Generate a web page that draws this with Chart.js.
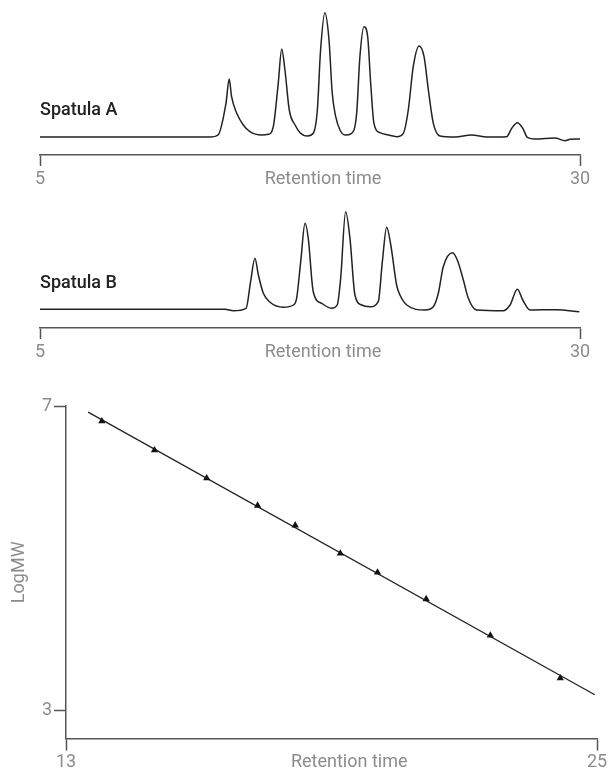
<!DOCTYPE html>
<html>
<head>
<meta charset="utf-8">
<script src="https://cdn.jsdelivr.net/npm/chart.js@4.4.1/dist/chart.umd.min.js"></script>
<style>
  html, body { margin: 0; padding: 0; background: #fff; }
  body { width: 610px; height: 771px; position: relative; overflow: hidden; font-family: Roboto, sans-serif; }
  .panel { position: absolute; left: 0; width: 610px; }
  .label { position: absolute; left: 40px; font-size: 18px; font-weight: 500; line-height: 18px; color: #222; }
</style>
</head>
<body>
<div class="panel" style="top:0;height:190px"><canvas id="chartA"></canvas></div>
<div class="panel" style="top:173px;height:190px"><canvas id="chartB"></canvas></div>
<div class="panel" style="top:380px;height:391px"><canvas id="chartC"></canvas></div>
<div class="label" style="top:100px">Spatula A</div>
<div class="label" style="top:273px">Spatula B</div>
<script>
// chromatogram traces (retention time, detector signal above baseline)
const timeA = [5, 12.87, 13.24, 13.61, 13.76, 13.87, 14.11, 14.41, 14.72, 15.26, 15.57, 15.80, 16.03, 16.19, 16.34, 16.54, 16.81, 17.04, 17.38, 17.65, 17.84, 17.99, 18.19, 18.38, 18.53, 18.69, 18.89, 19.12, 19.43, 19.66, 19.81, 20.0, 20.17, 20.31, 20.46, 20.74, 21.13, 21.51, 21.82, 22.05, 22.28, 22.55, 22.78, 22.98, 23.21, 23.52, 24.21, 24.98, 25.7, 26.6, 26.84, 27.1, 27.35, 27.56, 27.92, 28.84, 29.31, 29.54, 30];
const signalA = [0, 0, 2, 33.7, 58, 40.3, 23.7, 12, 5.3, 2, 2.7, 10.3, 53.7, 88, 67, 27, 12, 4.3, 1, 3.7, 27, 87, 124.3, 97, 43.7, 20.3, 7, 2, 3.7, 23.7, 80.3, 110.3, 100.3, 53.7, 13.7, 4.3, 2, 0.3, 3.7, 27, 70.3, 91, 80.3, 47, 13.7, 1, 0, 2, 0, 0.3, 8.7, 14.3, 8.7, -0.3, -2, -1, -3.7, -2.3, -2];

const timeB = [5, 13.56, 13.95, 14.54, 14.75, 14.95, 15.11, 15.34, 15.65, 16.27, 16.73, 16.88, 17.07, 17.27, 17.42, 17.65, 18.04, 18.50, 18.76, 18.92, 19.15, 19.35, 19.58, 19.89, 20.28, 20.66, 20.85, 21.05, 21.24, 21.51, 21.67, 21.98, 22.82, 23.21, 23.44, 23.67, 24.1, 24.32, 24.60, 24.83, 25.21, 26.45, 26.76, 27.1, 27.35, 27.69, 28.92, 29.97];
const signalB = [0, 0, -1.4, 1, 27.6, 51, 34.3, 16, 7, 2, 4.3, 11, 47.6, 86, 71, 17.6, 6, 1, 4.3, 31, 97.6, 71, 14.3, 4.3, 2.6, 7.6, 47.6, 82, 64.3, 24.3, 14, 4.3, -0.7, 2.6, 16, 42.6, 56.6, 49.3, 29.3, 11, -0.7, -1.4, 4.3, 20, 9.3, -0.7, -0.4, -2.4];

const chromTicks = [5, 18.1, 30];
const chromTickLabels = ['5', 'Retention time', '30'];

// calibration curve
const calTime = [13.81, 15.0, 16.18, 17.33, 18.18, 19.20, 20.04, 21.14, 22.59, 24.17];
const calLogMW = [6.80, 6.42, 6.05, 5.69, 5.43, 5.06, 4.81, 4.46, 3.98, 3.42];
const fitTime = [13.5, 24.95];
const fitLogMW = [6.92, 3.20];
const calTicksX = [13, 19.4, 25];
const calTickLabelsX = ['13', 'Retention time', '25'];
const calTicksY = [3, 7];

const axisColor = '#555';
const labelColor = '#8c8c8c';
const font = { family: 'Roboto', size: 18 };

function bottomAxis(min, max, ticks, labels, height, tickLen, pad) {
    return {
        type: 'linear', min: min, max: max,
        afterBuildTicks: s => { s.ticks = ticks.map(v => ({ value: v })); },
        afterFit: s => { s.height = height; },
        ticks: { autoSkip: false, maxRotation: 0, color: labelColor, font: font, padding: pad,
                 callback: (v, i) => labels[i] },
        grid: { drawOnChartArea: false, tickLength: tickLen, tickWidth: 1.5,
                tickColor: c => c.index === 1 ? 'rgba(0,0,0,0)' : axisColor },
        border: { color: axisColor, width: 1.5 }
    };
}

function chromChart(id, times, signal, yMin, yMax) {
    new Chart(document.getElementById(id), {
        type: 'line',
        data: {
            datasets: [{
                data: times.map((t, i) => ({ x: t, y: signal[i] })),
                borderColor: '#222',
                borderWidth: 1.5,
                pointRadius: 0,
                cubicInterpolationMode: 'monotone',
                fill: false
            }]
        },
        options: {
            responsive: true,
            maintainAspectRatio: false,
            animation: false,
            layout: { padding: { left: 40, right: 30, top: 0, bottom: 0 } },
            plugins: { legend: { display: false }, tooltip: { enabled: false } },
            scales: {
                x: bottomAxis(5, 30, chromTicks, chromTickLabels, 35, 11, 3),
                y: { display: false, min: yMin, max: yMax }
            }
        }
    });
}

chromChart('chartA', timeA, signalA, -18, 137);
chromChart('chartB', timeB, signalB, -18.7, 136.3);

new Chart(document.getElementById('chartC'), {
    type: 'scatter',
    data: {
        datasets: [{
            data: calTime.map((t, i) => ({ x: t, y: calLogMW[i] })),
            pointStyle: 'triangle',
            pointRadius: 4.2,
            backgroundColor: '#111',
            borderWidth: 0,
            showLine: false
        }, {
            data: fitTime.map((t, i) => ({ x: t, y: fitLogMW[i] })),
            showLine: true,
            pointRadius: 0,
            borderColor: '#222',
            borderWidth: 1.3
        }]
    },
    options: {
        responsive: true,
        maintainAspectRatio: false,
        animation: false,
        layout: { padding: { left: 0, right: 13, top: 26, bottom: 0 } },
        plugins: { legend: { display: false }, tooltip: { enabled: false } },
        scales: {
            x: bottomAxis(13, 25, calTicksX, calTickLabelsX, 32.5, 12, 1),
            y: {
                type: 'linear', min: 2.625, max: 7,
                afterBuildTicks: s => { s.ticks = calTicksY.map(v => ({ value: v })); },
                afterFit: s => { s.width = 66; },
                ticks: { color: labelColor, font: font, padding: 2 },
                grid: { drawOnChartArea: false, tickLength: 12, tickWidth: 1.5, tickColor: axisColor },
                border: { color: axisColor, width: 1.5 },
                title: { display: true, text: 'LogMW', color: labelColor, font: font, padding: { top: 9, bottom: 0 } }
            }
        }
    }
});
</script>
</body>
</html>
